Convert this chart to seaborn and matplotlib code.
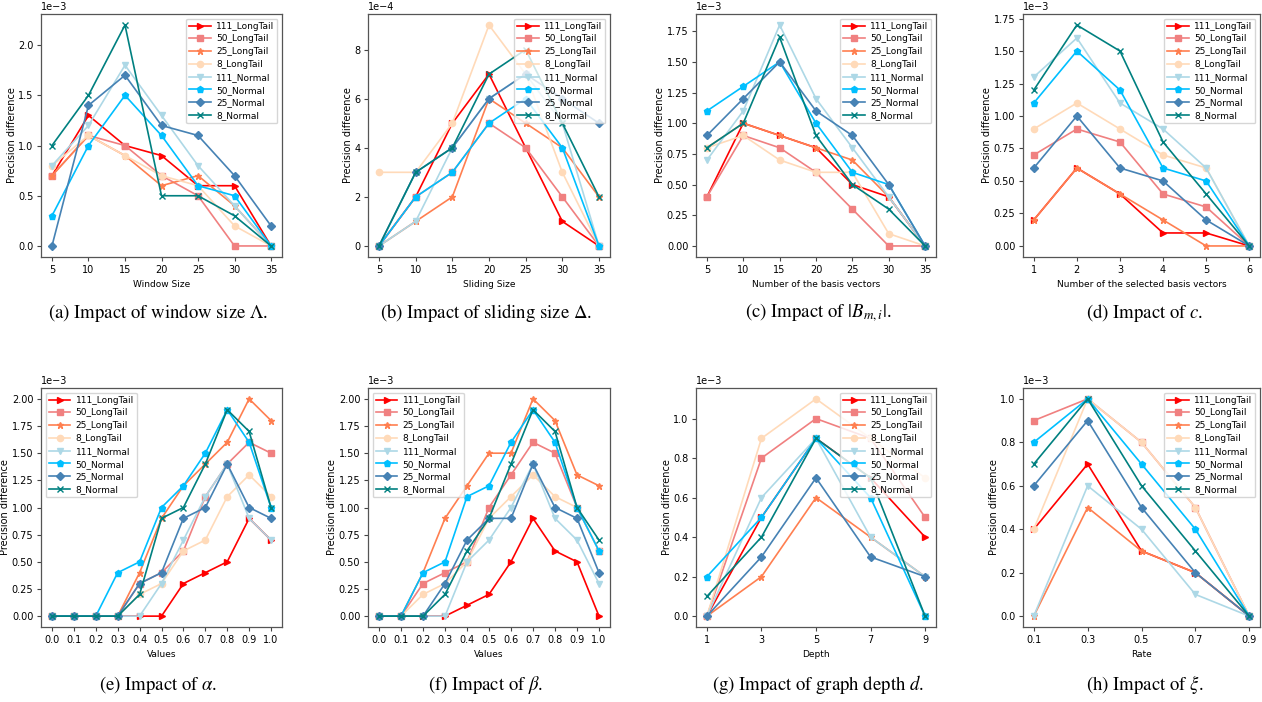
import numpy as np
import pandas as pd
import matplotlib
matplotlib.use("Agg")
import matplotlib.pyplot as plt
import seaborn as sns

plt.rcParams['mathtext.fontset'] = 'stix'

series = ["111_LongTail", "50_LongTail", "25_LongTail", "8_LongTail",
          "111_Normal", "50_Normal", "25_Normal", "8_Normal"]
colors = ["red", "lightcoral", "coral", "peachpuff",
          "lightblue", "deepskyblue", "steelblue", "teal"]
marks = [">", "s", "*", "o", "v", "p", "D", "x"]

# (a) window size, 1e-3
x_a = [5, 10, 15, 20, 25, 30, 35]
y_a = [
    [0.7, 1.3, 1.0, 0.9, 0.6, 0.6, 0.0],
    [0.7, 1.1, 1.0, 0.7, 0.5, 0.0, 0.0],
    [0.7, 1.1, 0.9, 0.6, 0.7, 0.4, 0.0],
    [0.8, 1.1, 0.9, 0.7, 0.6, 0.2, 0.0],
    [0.8, 1.2, 1.8, 1.3, 0.8, 0.4, 0.0],
    [0.3, 1.0, 1.5, 1.1, 0.6, 0.5, 0.0],
    [0.0, 1.4, 1.7, 1.2, 1.1, 0.7, 0.2],
    [1.0, 1.5, 2.2, 0.5, 0.5, 0.3, 0.0],
]
# (b) sliding size, 1e-4
x_b = [5, 10, 15, 20, 25, 30, 35]
y_b = [
    [0, 2, 5, 7, 4, 1, 0],
    [0, 2, 3, 5, 4, 2, 0],
    [0, 1, 2, 6, 5, 4, 2],
    [3, 3, 5, 9, 7, 3, 0],
    [0, 1, 4, 6, 7, 5, 0],
    [0, 2, 3, 5, 6, 4, 0],
    [0, 3, 4, 6, 7, 6, 5],
    [0, 3, 4, 7, 8, 5, 2],
]
# (c) number of basis vectors, 1e-3
x_c = [5, 10, 15, 20, 25, 30, 35]
y_c = [
    [0.4, 1.0, 0.9, 0.8, 0.5, 0.4, 0.0],
    [0.4, 0.9, 0.8, 0.6, 0.3, 0.0, 0.0],
    [0.8, 1.0, 0.9, 0.8, 0.7, 0.4, 0.0],
    [0.8, 0.9, 0.7, 0.6, 0.6, 0.1, 0.0],
    [0.7, 1.1, 1.8, 1.2, 0.8, 0.4, 0.0],
    [1.1, 1.3, 1.5, 1.0, 0.6, 0.5, 0.0],
    [0.9, 1.2, 1.5, 1.1, 0.9, 0.5, 0.0],
    [0.8, 1.0, 1.7, 0.9, 0.5, 0.3, 0.0],
]
# (d) number of selected basis vectors, 1e-3
x_d = [1, 2, 3, 4, 5, 6]
y_d = [
    [0.2, 0.6, 0.4, 0.1, 0.1, 0.0],
    [0.7, 0.9, 0.8, 0.4, 0.3, 0.0],
    [0.2, 0.6, 0.4, 0.2, 0.0, 0.0],
    [0.9, 1.1, 0.9, 0.7, 0.6, 0.0],
    [1.3, 1.6, 1.1, 0.9, 0.6, 0.0],
    [1.1, 1.5, 1.2, 0.6, 0.5, 0.0],
    [0.6, 1.0, 0.6, 0.5, 0.2, 0.0],
    [1.2, 1.7, 1.5, 0.8, 0.4, 0.0],
]
# (e) alpha, 1e-3
x_e = [0.0, 0.1, 0.2, 0.3, 0.4, 0.5, 0.6, 0.7, 0.8, 0.9, 1.0]
y_e = [
    [0, 0, 0, 0, 0.0, 0.0, 0.3, 0.4, 0.5, 0.9, 0.7],
    [0, 0, 0, 0, 0.3, 0.4, 0.6, 1.1, 1.4, 1.6, 1.5],
    [0, 0, 0, 0, 0.4, 0.9, 1.2, 1.4, 1.6, 2.0, 1.8],
    [0, 0, 0, 0, 0.2, 0.3, 0.6, 0.7, 1.1, 1.3, 1.1],
    [0, 0, 0, 0, 0.0, 0.3, 0.7, 1.1, 1.4, 0.9, 0.7],
    [0, 0, 0, 0.4, 0.5, 1.0, 1.2, 1.5, 1.9, 1.6, 1.0],
    [0, 0, 0, 0, 0.3, 0.4, 0.9, 1.0, 1.4, 1.0, 0.9],
    [0, 0, 0, 0, 0.2, 0.9, 1.0, 1.4, 1.9, 1.7, 1.0],
]
# (f) beta, 1e-3
x_f = [0.0, 0.1, 0.2, 0.3, 0.4, 0.5, 0.6, 0.7, 0.8, 0.9, 1.0]
y_f = [
    [0, 0, 0.0, 0.0, 0.1, 0.2, 0.5, 0.9, 0.6, 0.5, 0.0],
    [0, 0, 0.3, 0.4, 0.5, 1.0, 1.3, 1.6, 1.5, 1.0, 0.6],
    [0, 0, 0.4, 0.9, 1.2, 1.5, 1.5, 2.0, 1.8, 1.3, 1.2],
    [0, 0, 0.2, 0.3, 0.5, 0.9, 1.1, 1.3, 1.1, 1.0, 0.6],
    [0, 0, 0.0, 0.0, 0.5, 0.7, 1.0, 1.4, 0.9, 0.7, 0.3],
    [0, 0, 0.4, 0.5, 1.1, 1.2, 1.6, 1.9, 1.6, 1.0, 0.6],
    [0, 0, 0.0, 0.3, 0.7, 0.9, 0.9, 1.4, 1.0, 0.9, 0.4],
    [0, 0, 0.0, 0.2, 0.6, 0.9, 1.4, 1.9, 1.7, 1.0, 0.7],
]
# (g) graph depth, 1e-3
x_g = [1, 3, 5, 7, 9]
y_g = [
    [0.0, 0.5, 0.9, 0.7, 0.4],
    [0.0, 0.8, 1.0, 0.9, 0.5],
    [0.0, 0.2, 0.6, 0.4, 0.2],
    [0.0, 0.9, 1.1, 0.9, 0.7],
    [0.0, 0.6, 0.9, 0.4, 0.2],
    [0.2, 0.5, 0.9, 0.6, 0.0],
    [0.0, 0.3, 0.7, 0.3, 0.2],
    [0.1, 0.4, 0.9, 0.7, 0.0],
]
# (h) rate, 1e-3
x_h = [0.1, 0.3, 0.5, 0.7, 0.9]
y_h = [
    [0.4, 0.7, 0.3, 0.2, 0.0],
    [0.9, 1.0, 0.8, 0.5, 0.0],
    [0.0, 0.5, 0.3, 0.2, 0.0],
    [0.4, 1.0, 0.8, 0.5, 0.0],
    [0.0, 0.6, 0.4, 0.1, 0.0],
    [0.8, 1.0, 0.7, 0.4, 0.0],
    [0.6, 0.9, 0.5, 0.2, 0.0],
    [0.7, 1.0, 0.6, 0.3, 0.0],
]

panels = [
    (x_a, y_a, 1e-3, "Window Size", r"(a) Impact of window size $\Lambda$.", "upper right"),
    (x_b, y_b, 1e-4, "Sliding Size", r"(b) Impact of sliding size $\Delta$.", "upper right"),
    (x_c, y_c, 1e-3, "Number of the basis vectors", r"(c) Impact of $|\mathbf{\mathit{B}}_{m,i}|$.", "upper right"),
    (x_d, y_d, 1e-3, "Number of the selected basis vectors", r"(d) Impact of $c$.", "upper right"),
    (x_e, y_e, 1e-3, "Values", r"(e) Impact of $\alpha$.", "upper left"),
    (x_f, y_f, 1e-3, "Values", r"(f) Impact of $\beta$.", "upper left"),
    (x_g, y_g, 1e-3, "Depth", r"(g) Impact of graph depth $d$.", "upper right"),
    (x_h, y_h, 1e-3, "Rate", r"(h) Impact of $\xi$.", "upper right"),
]

W, H = 1262, 702
fig = plt.figure(figsize=(W / 100, H / 100), dpi=100)

cols = [(41, 282), (368, 610), (696, 936), (1023, 1260)]
rows = [(14, 257), (388, 627)]
cap_x = [158, 486, 818, 1145]
cap_y = [313, 685]

for i, (xs, ys, scale, xlab, cap, loc) in enumerate(panels):
    r, c = divmod(i, 4)
    l, rr = cols[c]
    t, b = rows[r]
    ax = fig.add_axes([l / W, 1 - b / H, (rr - l) / W, (b - t) / H])

    for name, col, mk, vals in zip(series, colors, marks, ys):
        sns.lineplot(x=xs, y=np.array(vals) * scale, color=col, marker=mk,
                     markersize=4.5, linewidth=1.2, markeredgewidth=1,
                     markeredgecolor=col, label=name, ax=ax)
    ax.set_xticks(xs)
    if isinstance(xs[0], float):
        ax.set_xticklabels([f"{v:.1f}" for v in xs])
    ax.ticklabel_format(axis="y", style="sci", scilimits=(0, 0))
    ax.yaxis.get_offset_text().set_fontsize(7)
    ax.tick_params(labelsize=7, length=3, pad=2.5, color="#444444")
    for sp in ax.spines.values():
        sp.set_color("#555555")
        sp.set_linewidth(0.9)
    ax.set_xlabel(xlab, fontsize=6.5, labelpad=4)
    ax.set_ylabel("Precision difference", fontsize=7, labelpad=1)
    ax.legend(loc=loc, fontsize=6.5, handlelength=2.4, handletextpad=0.6,
              borderpad=0.35, labelspacing=0.42, framealpha=0.8)

    fig.text(cap_x[c] / W, 1 - cap_y[r] / H, cap, ha="center", va="center",
             fontsize=13.5, family="STIXGeneral")

fig.savefig("out.png", dpi=100)
